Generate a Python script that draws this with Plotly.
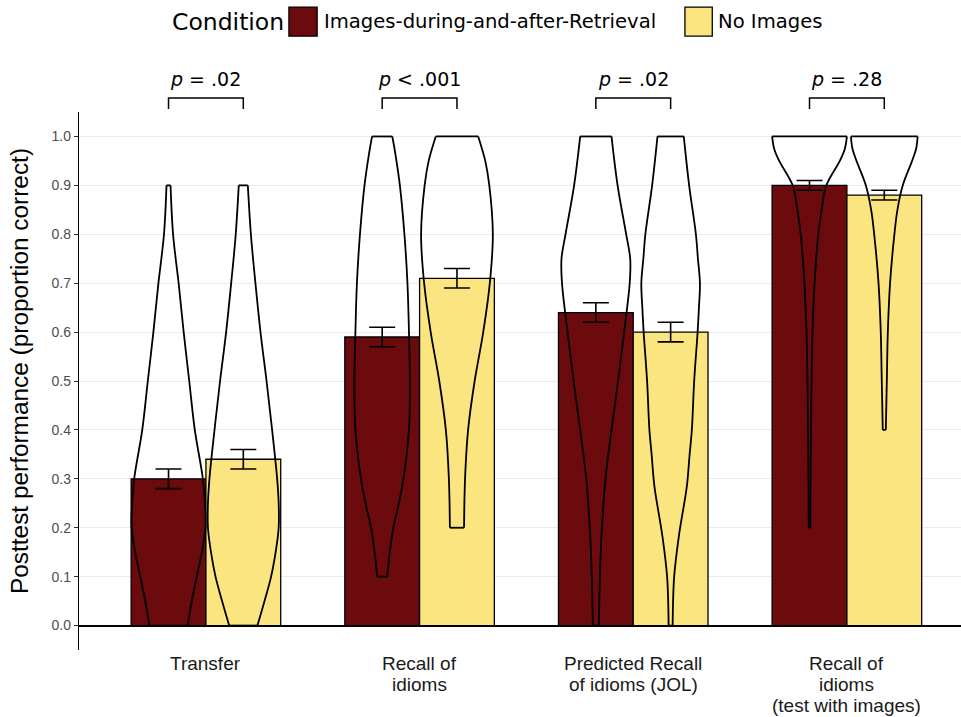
import plotly.graph_objects as go

# ---- data -------------------------------------------------------------
groups = [
    ["Transfer"],
    ["Recall of", "idioms"],
    ["Predicted Recall", "of idioms (JOL)"],
    ["Recall of", "idioms", "(test with images)"],
]
conditions = ["Images-during-and-after-Retrieval", "No Images"]

mean_images = [0.30, 0.59, 0.64, 0.90]
se_images = [0.02, 0.02, 0.02, 0.01]
mean_noimages = [0.34, 0.71, 0.60, 0.88]
se_noimages = [0.02, 0.02, 0.02, 0.01]

p_labels = ["<i>p</i> = .02", "<i>p</i> < .001", "<i>p</i> = .02", "<i>p</i> = .28"]

# violin density profiles: score levels and relative density at each level
vlev_images = [
    [0, 0.05, 0.1, 0.15, 0.2, 0.25, 0.3, 0.4, 0.5, 0.6, 0.7, 0.8, 0.9],
    [0.1, 0.15, 0.2, 0.25, 0.3, 0.4, 0.5, 0.6, 0.7, 0.8, 0.9, 0.965, 1.0],
    [0, 0.1, 0.2, 0.3, 0.4, 0.5, 0.6, 0.7, 0.75, 0.8, 0.9, 1.0],
    [0.2, 0.3, 0.4, 0.5, 0.6, 0.7, 0.8, 0.85, 0.9, 0.95, 0.975, 1.0],
]
vden_images = [
    [19, 23, 28, 33, 36.5, 36, 34, 26, 20.5, 15, 10, 4.5, 2],
    [5, 7.5, 11, 16.5, 21, 26.5, 27.5, 26.5, 25, 22, 17.5, 13, 10],
    [3, 4, 6, 9.5, 15.5, 22, 28, 33.5, 34, 30, 21.5, 15.5],
    [0.8, 1, 1.5, 2, 3, 5, 8.7, 12, 16.7, 30, 35, 37],
]
vlev_noimages = [
    [0, 0.05, 0.1, 0.15, 0.2, 0.25, 0.3, 0.4, 0.5, 0.6, 0.7, 0.8, 0.9],
    [0.2, 0.3, 0.4, 0.5, 0.6, 0.7, 0.8, 0.9, 0.95, 1.0],
    [0, 0.1, 0.185, 0.284, 0.35, 0.4, 0.5, 0.6, 0.65, 0.7, 0.75, 0.8, 0.9, 1.0],
    [0.4, 0.5, 0.6, 0.7, 0.8, 0.85, 0.9, 0.95, 0.975, 1.0],
]
vden_noimages = [
    [14, 21, 27.5, 32, 35, 35, 33.5, 28.5, 23, 17, 12, 7.5, 4.5],
    [7, 8, 11, 17.5, 26, 32.5, 35.5, 32, 28, 21],
    [2, 3.5, 8.3, 16, 18.8, 21, 23.3, 26.7, 28, 29, 27, 25, 18.3, 13],
    [1.5, 2.5, 3.5, 5.7, 10, 13, 18.3, 27.5, 31.5, 33],
]

y_ticks = [0.0, 0.1, 0.2, 0.3, 0.4, 0.5, 0.6, 0.7, 0.8, 0.9, 1.0]
y_title = "Posttest performance (proportion correct)"

# ---- styling ----------------------------------------------------------
COL_IMG = "#6B0B0D"
COL_NO = "#FBE581"
BAR_W = 0.35
DODGE = BAR_W / 2
X_RANGE = [-0.594, 3.534]
Y_RANGE = [-0.05, 1.05]
PLOT_H = 538  # px height of the plotting area

fig = go.Figure()

xpos = list(range(len(groups)))
series = [
    (conditions[0], mean_images, se_images, COL_IMG, -DODGE, vlev_images, vden_images),
    (conditions[1], mean_noimages, se_noimages, COL_NO, DODGE, vlev_noimages, vden_noimages),
]

# bars
for name, means, ses, col, off, _, _ in series:
    fig.add_trace(go.Bar(
        x=[i + off for i in xpos], y=means, width=BAR_W, name=name,
        marker=dict(color=col, line=dict(color="black", width=1.3)),
        showlegend=False, hoverinfo="skip",
    ))

# violin outlines (transparent fill), all on a common density scale
max_den = max(max(max(d) for d in vden_images), max(max(d) for d in vden_noimages))
scale = DODGE / max_den
for name, means, ses, col, off, levs, dens in series:
    for i in xpos:
        c = i + off
        lv, dv = levs[i], dens[i]
        xs, ys = [], []
        # left side
        xs += [c - d * scale for d in dv]; ys += list(lv)
        xs.append(None); ys.append(None)
        # right side
        xs += [c + d * scale for d in dv]; ys += list(lv)
        xs.append(None); ys.append(None)
        # flat ends
        xs += [c - dv[0] * scale, c + dv[0] * scale, None, c - dv[-1] * scale, c + dv[-1] * scale]
        ys += [lv[0], lv[0], None, lv[-1], lv[-1]]
        fig.add_trace(go.Scatter(
            x=xs, y=ys, mode="lines", line=dict(color="black", width=1.8, shape="spline", smoothing=1.0),
            connectgaps=False, showlegend=False, hoverinfo="skip",
        ))

# error bars (mean +/- SE)
for name, means, ses, col, off, _, _ in series:
    fig.add_trace(go.Scatter(
        x=[i + off for i in xpos], y=means, mode="markers",
        marker=dict(color="rgba(0,0,0,0)", size=1),
        error_y=dict(type="data", array=ses, color="black", thickness=1.6, width=13),
        showlegend=False, hoverinfo="skip",
    ))


def xpaper(x):
    return (x - X_RANGE[0]) / (X_RANGE[1] - X_RANGE[0])


# significance brackets and p-values
shapes = []
annotations = []
for i in xpos:
    x0, x1 = xpaper(i - DODGE), xpaper(i + DODGE)
    shapes.append(dict(
        type="path", xref="paper", yref="paper",
        path=f"M {x0},1.0056 L {x0},1.026 L {x1},1.026 L {x1},1.0056",
        line=dict(color="black", width=1.5),
    ))
    annotations.append(dict(
        x=i, y=1.061, xref="x", yref="paper", text=p_labels[i], showarrow=False,
        font=dict(family="DejaVu Sans", size=19, color="black"), xanchor="center", yanchor="middle",
    ))

# category labels under each group, one line per row
LINE_GAP = 21
for i, lines in enumerate(groups):
    for k, line in enumerate(lines):
        annotations.append(dict(
            x=i, y=-(13 + k * LINE_GAP) / PLOT_H, xref="x", yref="paper", text=line,
            showarrow=False, xanchor="center", yanchor="middle",
            font=dict(family="Liberation Sans", size=19, color="#1a1a1a"),
        ))

# y-axis title
annotations.append(dict(
    x=-0.0669, y=0.5186, xref="paper", yref="paper", text=y_title, textangle=-90,
    showarrow=False, xanchor="center", yanchor="middle",
    font=dict(family="Liberation Sans", size=24.4, color="black"),
))

# legend drawn at the top
annotations.append(dict(
    x=0.1031, y=1.168, xref="paper", yref="paper", text="Condition", showarrow=False,
    font=dict(family="DejaVu Sans", size=23.5, color="black"), xanchor="left", yanchor="middle",
))
for (name, col, kx0, kx1, tx) in [
    (conditions[0], COL_IMG, 0.238, 0.270, 0.2755),
    (conditions[1], COL_NO, 0.687, 0.718, 0.7222),
]:
    shapes.append(dict(
        type="rect", xref="paper", yref="paper", x0=kx0, x1=kx1, y0=1.141, y1=1.195,
        fillcolor=col, line=dict(color="black", width=1.3),
    ))
    annotations.append(dict(
        x=tx, y=1.168, xref="paper", yref="paper", text=name, showarrow=False,
        font=dict(family="DejaVu Sans", size=19.6, color="black"), xanchor="left", yanchor="middle",
    ))

fig.update_layout(
    width=961, height=717,
    margin=dict(l=79, r=0, t=112, b=67),
    paper_bgcolor="white", plot_bgcolor="white",
    barmode="overlay",
    shapes=shapes, annotations=annotations,
    xaxis=dict(
        range=X_RANGE, tickvals=xpos, showticklabels=False, showgrid=False, zeroline=False,
        showline=False, ticks="",
    ),
    yaxis=dict(
        range=Y_RANGE, tickvals=y_ticks, ticktext=[f"{v:.1f}" for v in y_ticks],
        showgrid=True, gridcolor="#EBEBEB", gridwidth=1,
        zeroline=True, zerolinecolor="black", zerolinewidth=2,
        showline=True, linecolor="black", linewidth=1.3,
        ticks="outside", ticklen=4, tickcolor="#333333", tickwidth=1,
        tickfont=dict(family="Liberation Sans", size=14, color="#4D4D4D"),
    ),
)

fig.write_html("out.html")
